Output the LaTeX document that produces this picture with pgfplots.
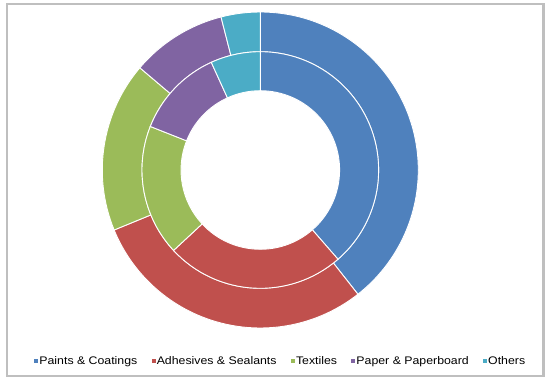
\documentclass[border=0pt]{standalone}
\usepackage{pgfplots}
\pgfplotsset{compat=1.18}
\usepackage{pgfplotstable}
\usetikzlibrary{calc}
\usepackage{fontspec}
\setmainfont{Liberation Sans}[FakeStretch=1.12]
\definecolor{c0}{HTML}{4F81BD}
\definecolor{c1}{HTML}{C0504D}
\definecolor{c2}{HTML}{9BBB59}
\definecolor{c3}{HTML}{8064A2}
\definecolor{c4}{HTML}{4BACC6}
\definecolor{framegray}{HTML}{BFBFBF}

% share of each segment (%), outer and inner ring
\pgfplotstableread{
name outer inner
Paints 39.4 38.6
Adhesives 29.4 24.5
Textiles 17.4 17.9
Paper 9.8 12.2
Others 4.0 6.8
}\data

\newcommand\drawring[3]{%
  \def\cum{0}%
  \pgfplotsforeachungrouped \i in {0,...,4}{%
    \pgfplotstablegetelem{\i}{#1}\of\data
    \pgfmathsetmacro\aa{90-\cum*3.6}%
    \pgfmathsetmacro\cum{\cum+\pgfplotsretval}%
    \pgfmathsetmacro\bb{90-\cum*3.6}%
    \edef\temp{\noexpand\fill[fill=c\i, draw=white, line width=0.9pt]
      ($(axis cs:260.3,211)+(\aa:#3pt)$) arc[start angle=\aa, end angle=\bb, radius=#3pt]
      -- ($(axis cs:260.3,211)+(\bb:#2pt)$) arc[start angle=\bb, end angle=\aa, radius=#2pt] -- cycle;}%
    \temp
  }%
}

\begin{document}
\begin{tikzpicture}
\begin{axis}[
  x=1pt, y=1pt, xmin=0, xmax=552, ymin=0, ymax=381,
  hide axis, clip=false, scale only axis,
  legend columns=5,
  legend image code/.code={\fill[#1, draw=none] (0pt,-1.6pt) rectangle (4pt,2.4pt);},
  legend style={draw=none, fill=none, at={(axis cs:280.3,20)}, anchor=center,
    font=\fontsize{11}{13}\selectfont, inner sep=0pt,
    nodes={inner sep=1.2pt, anchor=west},
    /tikz/every even column/.append style={column sep=13pt}},
]
\path (axis cs:0,0) rectangle (axis cs:552,381);
\draw[framegray, line width=2.5pt] (axis cs:7,377) rectangle (axis cs:543.5,5);
\drawring{outer}{118.3}{158}
\drawring{inner}{79.3}{118.3}
\addlegendimage{fill=c0}
\addlegendimage{fill=c1}
\addlegendimage{fill=c2}
\addlegendimage{fill=c3}
\addlegendimage{fill=c4}
\legend{Paints \& Coatings, Adhesives \& Sealants, Textiles, Paper \& Paperboard, Others}
\end{axis}
\end{tikzpicture}
\end{document}
